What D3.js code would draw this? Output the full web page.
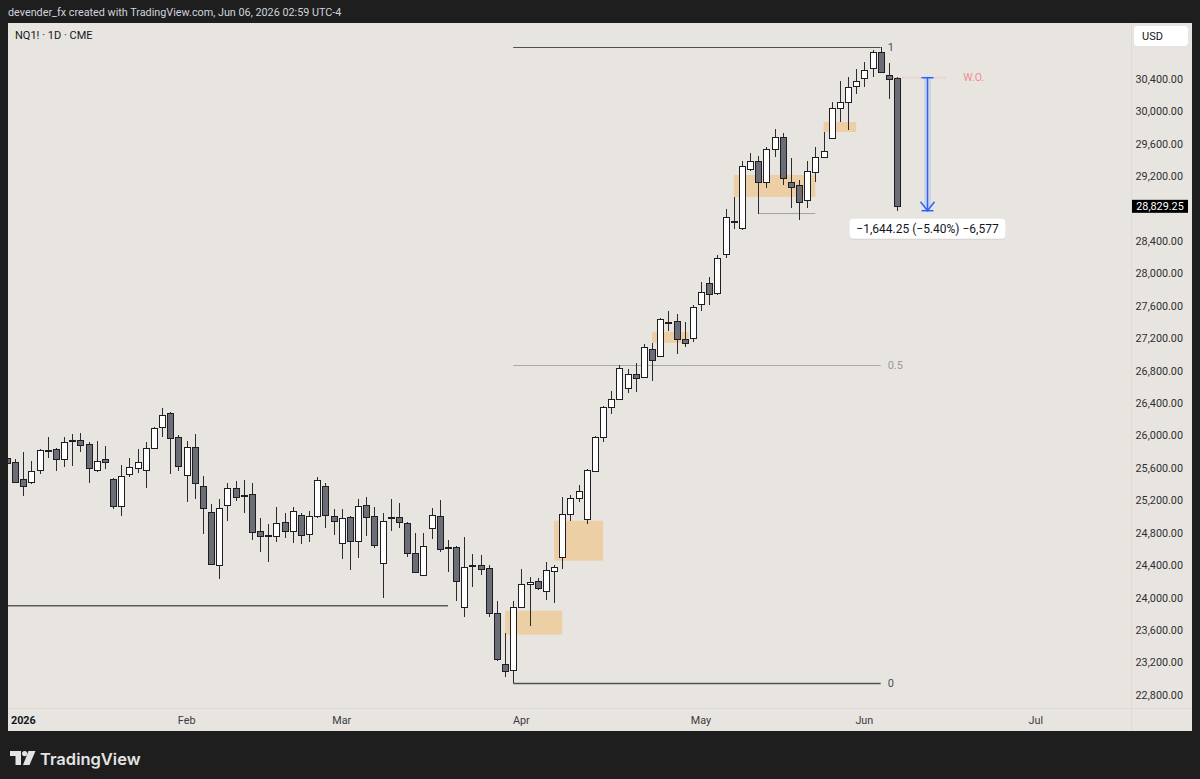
<!DOCTYPE html>
<html><head><meta charset="utf-8">
<script src="https://cdn.jsdelivr.net/npm/d3@7"></script>
<style>html,body{margin:0;padding:0;background:#1e1e1e;overflow:hidden}svg{display:block}</style>
</head><body>
<svg id="c" width="1200" height="779"></svg>
<script>
// ---- DATA (NQ1! daily, Dec 30 2025 .. Jun 5 2026) ----
const open = [
25727,25678,25468,25431,25579,25820,25838,25715,25945,25949,
25899,25579,25715,25468,25135,25530,25604,25579,25850,26109,
26282,25986,25517,25862,25382,25061,24408,25147,25357,25262,
25283,24827,24780,24765,24938,24827,25024,24790,25012,25382,
25012,24679,24999,24703,25147,25012,24432,24990,24999,24925,
24556,24284,24864,25012,24625,24629,23890,24390,24408,24371,
23816,23187,23113,23890,24173,24210,24087,24334,24506,25036,
25234,24975,25567,25986,26356,26454,26590,26763,26726,27071,
26985,27400,27416,27194,27206,27626,27885,27761,28242,28645,
28563,29290,29389,29130,29537,29685,29130,29093,28908,29253,
29438,29672,30042,30116,30314,30412,30536,30733,30449,30416];
const high = [
25752,25715,25801,25690,25830,25986,25845,25986,26023,26035,
25924,25936,25875,25475,25641,25727,25838,25924,26103,26343,
26290,26010,25936,26023,25505,25160,25221,25419,25443,25456,
25419,24987,24913,25123,25049,25123,25049,25073,25493,25419,
25098,25098,25005,25221,25246,25123,25049,25221,25172,24938,
24802,24802,25110,25209,24716,24635,24753,24543,24531,24408,
23964,23569,23964,24358,24260,24247,24445,24408,25246,25271,
25394,25585,25998,26368,26553,26874,26824,26898,27132,27145,
27453,27539,27502,27404,27613,27897,27959,28230,28797,28945,
29389,29488,29451,29561,29783,29734,29426,29155,29389,29561,
29746,30116,30375,30425,30523,30609,30757,30794,30597,30420];
const low = [
25641,25419,25258,25406,25530,25727,25567,25616,25628,25801,
25419,25554,25591,25098,25012,25493,25542,25357,25838,25986,
25530,25567,25184,25221,24790,24408,24235,24950,25197,25049,
24716,24568,24445,24691,24740,24679,24666,24691,24987,24864,
24777,24482,24346,24494,24765,24617,24001,24827,24864,24506,
24315,24278,24728,24568,24321,23964,23766,24136,24284,23766,
23224,23027,22950,23885,23655,24099,23976,23939,24358,24950,
25184,24913,25560,25924,26269,26448,26528,26541,26720,26676,
26980,27293,27009,27095,27157,27539,27613,27737,28193,28550,
28538,29266,28735,29056,29438,29093,28809,28661,28809,29130,
29432,29666,29870,29771,30215,30301,30425,30474,30153,28772];
const close = [
25665,25431,25382,25567,25825,25828,25715,25924,25952,25887,
25604,25690,25678,25135,25505,25616,25678,25850,26097,26257,
25973,25628,25862,25419,25110,24420,25110,25357,25246,25255,
24814,24765,24775,24925,24827,25073,24777,25012,25456,25024,
24950,24987,24703,25135,24999,24654,24950,24995,24938,24556,
24321,24642,25024,24605,24630,24210,24383,24398,24358,23816,
23249,23101,23890,24173,24198,24124,24346,24383,25036,25234,
25320,25579,25986,26356,26454,26837,26763,26713,27095,26935,
27441,27408,27194,27145,27589,27774,27749,28193,28698,28652,
29327,29389,29130,29537,29685,29179,29068,28883,29266,29438,
29512,30042,30116,30301,30375,30511,30733,30486,30400,28829.25];

const monthLabels = ["2026","Feb","Mar","Apr","May","Jun","Jul"];
const monthBarIndex = [2,22,41,63,85,105,126];
const priceTicks = [22800,23200,23600,24000,24400,24800,25200,25600,26000,26400,26800,27200,27600,28000,28400,28800,29200,29600,30000,30400];
const lastPrice = 28829.25;

// fib retracement (bar index of low / high, levels)
const fibBars = [62, 107];
const fibLevels = [1, 0.5, 0];
const fibPrices = [30794, 22950];
// orange zones: [startBar, endBar, top, bottom]
const zoneStart = [61, 67, 79, 89, 100];
const zoneEnd   = [68, 73, 83.5, 99, 104];
const zoneTop   = [23840, 24950, 27280, 29216, 29870];
const zoneBottom= [23545, 24457, 27145, 28945, 29746];
// horizontal levels
const leftLevel = {price: 23902, fromBar: -2, toBar: 54};
const grayLevel = {price: 28740, fromBar: 92, toBar: 99};
const weeklyOpen = {price: 30416, fromBar: 108.2, toBar: 114.9, label: "W.O."};
const measure = {bar: 112.7, from: 30416, to: 28775, text: "\u22121,644.25 (\u22125.40%) \u22126,577"};

// ---- LAYOUT ----
const svg = d3.select("#c");
const FONT = "Roboto, 'Noto Sans', sans-serif";
const area = {x0: 8, y0: 23, x1: 1192, y1: 731, plotRight: 1131, timeTop: 708};
const xs = d3.scaleLinear().domain([0, 109]).range([7, 897]);
const ys = d3.scaleLinear().domain([22800, 30400]).range([695, 79]);

svg.append("rect").attr("width",1200).attr("height",779).attr("fill","#1e1e1e");
svg.append("rect").attr("x",area.x0).attr("y",area.y0).attr("width",area.x1-area.x0).attr("height",area.y1-area.y0).attr("fill","#e8e5e0");

svg.append("text").attr("x",8).attr("y",12).attr("dy","0.35em")
  .attr("font-family",FONT).attr("font-size",10.8).attr("fill","#d1d4dc")
  .text("devender_fx created with TradingView.com, Jun 06, 2026 02:59 UTC-4");

const defs = svg.append("defs");
defs.append("clipPath").attr("id","plot").append("rect")
  .attr("x",area.x0).attr("y",area.y0).attr("width",area.plotRight-area.x0).attr("height",area.timeTop-area.y0);
const plot = svg.append("g").attr("clip-path","url(#plot)");

// zones
const zones = zoneStart.map((s,k)=>({s, e:zoneEnd[k], t:zoneTop[k], b:zoneBottom[k]}));
plot.selectAll("rect.zone").data(zones).join("rect").attr("class","zone")
  .attr("x",d=>xs(d.s)).attr("width",d=>xs(d.e)-xs(d.s))
  .attr("y",d=>ys(d.t)).attr("height",d=>ys(d.b)-ys(d.t))
  .attr("fill","rgba(245,180,95,0.45)");

// horizontal levels
plot.append("line").attr("x1",xs(leftLevel.fromBar)).attr("x2",xs(leftLevel.toBar))
  .attr("y1",ys(leftLevel.price)).attr("y2",ys(leftLevel.price)).attr("stroke","#5a5a5e").attr("stroke-width",1.4);
plot.append("line").attr("x1",xs(grayLevel.fromBar)).attr("x2",xs(grayLevel.toBar))
  .attr("y1",ys(grayLevel.price)).attr("y2",ys(grayLevel.price)).attr("stroke","#a3a3a6").attr("stroke-width",1);

// fib
const fibPrice = lv => fibPrices[1] + (fibPrices[0]-fibPrices[1])*lv;
fibLevels.forEach(lv=>{
  const y = Math.round(ys(fibPrice(lv)))+0.5;
  plot.append("line").attr("x1",xs(fibBars[0])).attr("x2",xs(fibBars[1])).attr("y1",y).attr("y2",y)
    .attr("stroke", lv===0.5 ? "#a9a9ac" : "#4f5056").attr("stroke-width", lv===0 ? 1.3 : 1);
  plot.append("text").attr("x",xs(fibBars[1])+7).attr("y",y).attr("dy","0.35em")
    .attr("font-family",FONT).attr("font-size",11).attr("fill", lv===0.5 ? "#9a9a9e" : "#4f5056")
    .text(String(lv));
});

// candles
const bars = open.map((o,i)=>({i,o,h:high[i],l:low[i],c:close[i]}));
const cg = plot.append("g").attr("shape-rendering","crispEdges");
bars.forEach(d=>{
  const cx = Math.round(xs(d.i));
  const yh = Math.round(ys(d.h)), yl = Math.round(ys(d.l));
  const yt = Math.round(ys(Math.max(d.o,d.c))), yb = Math.round(ys(Math.min(d.o,d.c)));
  const up = d.c >= d.o;
  cg.append("rect").attr("x",cx).attr("width",1).attr("y",yh).attr("height",Math.max(1,yl-yh)).attr("fill","#2a2a2f");
  const bh = Math.max(2, yb-yt+1);
  cg.append("rect").attr("x",cx-3).attr("width",7).attr("y",yt).attr("height",bh).attr("fill","#1d1d22");
  if (bh>2) cg.append("rect").attr("x",cx-2).attr("width",5).attr("y",yt+1).attr("height",bh-2)
    .attr("fill", up ? "#ffffff" : "#6c6e77");
});

// weekly open dotted line
plot.append("line").attr("x1",xs(weeklyOpen.fromBar)).attr("x2",xs(weeklyOpen.toBar))
  .attr("y1",ys(weeklyOpen.price)).attr("y2",ys(weeklyOpen.price))
  .attr("stroke","#f27a80").attr("stroke-width",1).attr("stroke-dasharray","1,2").attr("opacity",0.7);
plot.append("text").attr("x",xs(weeklyOpen.toBar)+18).attr("y",ys(weeklyOpen.price)).attr("dy","0.35em")
  .attr("font-family",FONT).attr("font-size",10.5).attr("fill","#f08c8f").text(weeklyOpen.label);

// measure arrow
const mx = Math.round(xs(measure.bar))+0.5, my0 = ys(measure.from), my1 = ys(measure.to);
plot.append("rect").attr("x",mx-3.5).attr("width",7).attr("y",my0).attr("height",my1-my0-2)
  .attr("fill","rgba(41,98,255,0.13)");
const blue = "#2962ff";
plot.append("line").attr("x1",mx).attr("x2",mx).attr("y1",my0).attr("y2",my1).attr("stroke",blue).attr("stroke-width",1.5);
plot.append("line").attr("x1",mx-6).attr("x2",mx+6).attr("y1",my0).attr("y2",my0).attr("stroke",blue).attr("stroke-width",1.5);
plot.append("line").attr("x1",mx-6).attr("x2",mx+6).attr("y1",my1).attr("y2",my1).attr("stroke",blue).attr("stroke-width",1.5);
plot.append("path").attr("d",`M${mx-7},${my1-9}L${mx},${my1}L${mx+7},${my1-9}`)
  .attr("fill","none").attr("stroke",blue).attr("stroke-width",1.5);
const lbW = 156, lbH = 20, lbY = my1+8;
plot.append("rect").attr("x",mx-lbW/2).attr("y",lbY+1).attr("width",lbW).attr("height",lbH).attr("rx",4)
  .attr("fill","rgba(0,0,0,0.08)");
plot.append("rect").attr("x",mx-lbW/2).attr("y",lbY).attr("width",lbW).attr("height",lbH).attr("rx",4)
  .attr("fill","#ffffff");
plot.append("text").attr("x",mx).attr("y",lbY+lbH/2).attr("dy","0.35em").attr("text-anchor","middle")
  .attr("font-family",FONT).attr("font-size",12).attr("fill","#131722").text(measure.text);

// symbol
svg.append("text").attr("x",15).attr("y",35).attr("dy","0.35em")
  .attr("font-family",FONT).attr("font-size",11).attr("fill","#131722").text("NQ1! \u00b7 1D \u00b7 CME");

// axes separators
svg.append("line").attr("x1",area.plotRight+0.5).attr("x2",area.plotRight+0.5).attr("y1",area.y0).attr("y2",area.y1)
  .attr("stroke","#dedbd6");
svg.append("line").attr("x1",area.x0).attr("x2",area.x1).attr("y1",area.timeTop+0.5).attr("y2",area.timeTop+0.5)
  .attr("stroke","#dedbd6");

// price axis
const fmt = d3.format(",.2f");
const yLast = ys(lastPrice);
const yAxis = svg.append("g");
priceTicks.filter(p=>Math.abs(ys(p)-yLast)>12).forEach(p=>{
  yAxis.append("text").attr("x",1183).attr("y",ys(p)).attr("dy","0.35em").attr("text-anchor","end")
    .attr("font-family",FONT).attr("font-size",10.8).attr("fill","#2f2f33").text(fmt(p));
});
yAxis.append("rect").attr("x",1132).attr("y",yLast-6.5).attr("width",56).attr("height",13).attr("fill","#000");
yAxis.append("text").attr("x",1160).attr("y",yLast).attr("dy","0.35em").attr("text-anchor","middle")
  .attr("font-family",FONT).attr("font-size",10.8).attr("fill","#ffffff").text(fmt(lastPrice));
yAxis.append("rect").attr("x",1134).attr("y",26).attr("width",54).attr("height",20).attr("rx",4).attr("fill","#ffffff");
yAxis.append("text").attr("x",1142).attr("y",36).attr("dy","0.35em")
  .attr("font-family",FONT).attr("font-size",11).attr("fill","#131722").text("USD");

// time axis
monthLabels.forEach((m,k)=>{
  svg.append("text").attr("x",xs(monthBarIndex[k])).attr("y",720).attr("dy","0.35em").attr("text-anchor","middle")
    .attr("font-family",FONT).attr("font-size",10.8).attr("font-weight",k===0?700:400)
    .attr("fill", k===0 ? "#131722" : "#3a3a3e").text(m);
});

// TradingView logo
const lg = svg.append("g").attr("fill","#e3e3e3");
lg.append("path").attr("d","M10,751H21V765H15.5V756H10Z");
lg.append("circle").attr("cx",24.6).attr("cy",753.6).attr("r",2.6);
lg.append("path").attr("d","M28.5,751H35.5L29.5,765H23Z");
svg.append("text").attr("x",40).attr("y",759).attr("dy","0.35em")
  .attr("font-family","Inter, Roboto, sans-serif").attr("font-size",16.5).attr("font-weight",600).attr("fill","#e3e3e3").text("TradingView");
</script>
</body></html>
